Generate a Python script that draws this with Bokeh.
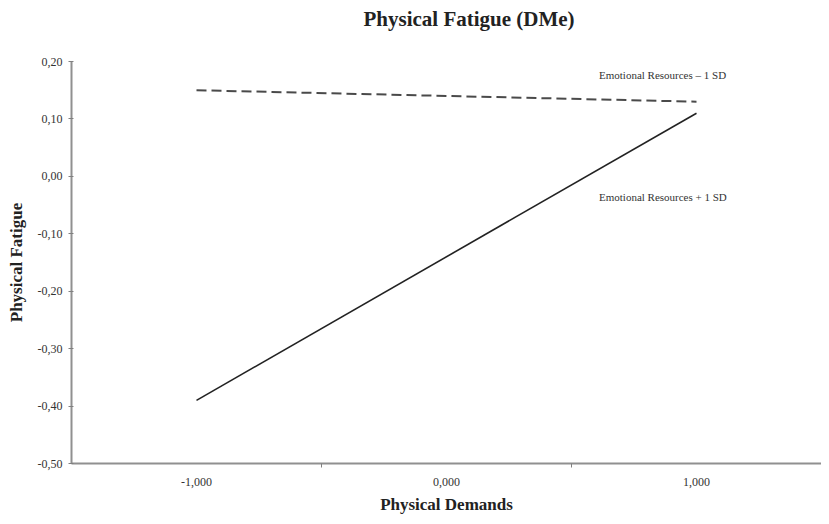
from bokeh.plotting import figure
from bokeh.models import Range1d, FixedTicker, Label, ColumnDataSource, Title
from bokeh.embed import file_html
from bokeh.resources import INLINE

# ---- data ----
x_levels = [-1.0, 1.0]
low_er = [0.15, 0.13]      # Emotional Resources - 1 SD (dashed)
high_er = [-0.39, 0.11]    # Emotional Resources + 1 SD (solid)
x_ticks = [-1, 0, 1]
x_tick_labels = ["-1,000", "0,000", "1,000"]
y_ticks = [0.2, 0.1, 0.0, -0.1, -0.2, -0.3, -0.4, -0.5]
y_tick_labels = ["0,20", "0,10", "0,00", "-0,10", "-0,20", "-0,30", "-0,40", "-0,50"]
title_text = "Physical Fatigue (DMe)"
label_low = "Emotional Resources \u2013 1 SD"
label_high = "Emotional Resources + 1 SD"

SERIF = "Liberation Serif"

p = figure(width=821, height=516, output_backend="svg", toolbar_location=None,
           x_range=Range1d(-1.5, 1.5), y_range=Range1d(-0.5, 0.2),
           min_border_left=71, min_border_right=0, min_border_top=40, min_border_bottom=48)
p.outline_line_color = None
p.grid.grid_line_color = None
p.background_fill_color = "white"
p.border_fill_color = "white"

# spacer panel between the frame and the title
p.add_layout(Title(text=" ", text_font_size="1px", standoff=24), "above")
# title (left aligned with offset so it sits where the original one does)
p.add_layout(Title(text=title_text, text_font=SERIF, text_font_size="21px",
                   text_font_style="bold", text_color="#222222",
                   align="left", offset=292, standoff=8), "above")

src_low = ColumnDataSource(dict(x=x_levels, y=low_er))
src_high = ColumnDataSource(dict(x=x_levels, y=high_er))
p.line("x", "y", source=src_low, line_color="#4a4a4a", line_width=2, line_dash="10 5")
p.line("x", "y", source=src_high, line_color="#222222", line_width=1.6)

# x axis
xa = p.xaxis[0]
xa.ticker = FixedTicker(ticks=x_ticks, minor_ticks=[-0.5, 0.5])
xa.major_label_overrides = {t: l for t, l in zip(x_ticks, x_tick_labels)}
xa.major_tick_in = 0
xa.major_tick_out = 0
xa.minor_tick_in = 0
xa.minor_tick_out = 4
xa.minor_tick_line_color = "#808080"
xa.axis_line_color = "#909090"
xa.axis_line_width = 2
xa.major_label_standoff = 10
xa.major_label_text_font = SERIF
xa.major_label_text_font_size = "12px"
xa.major_label_text_color = "#333333"
xa.axis_label = "Physical Demands"
xa.axis_label_text_font = SERIF
xa.axis_label_text_font_style = "bold"
xa.axis_label_text_font_size = "17px"
xa.axis_label_text_color = "#222222"
xa.axis_label_standoff = 6

# y axis
ya = p.yaxis[0]
ya.ticker = FixedTicker(ticks=y_ticks)
ya.major_label_overrides = {t: l for t, l in zip(y_ticks, y_tick_labels)}
ya.major_tick_in = 2
ya.major_tick_out = 3
ya.major_tick_line_color = "#808080"
ya.minor_tick_line_color = None
ya.axis_line_color = "#909090"
ya.axis_line_width = 2
ya.major_label_standoff = 6
ya.major_label_text_font = SERIF
ya.major_label_text_font_size = "12px"
ya.major_label_text_color = "#333333"
ya.axis_label = "Physical Fatigue"
ya.axis_label_text_font = SERIF
ya.axis_label_text_font_style = "bold"
ya.axis_label_text_font_size = "17px"
ya.axis_label_text_color = "#222222"
ya.axis_label_standoff = 9

p.add_layout(Label(x=0.61, y=0.176, text=label_low, text_font=SERIF,
                   text_font_size="11px", text_color="#333333", text_baseline="middle"))
p.add_layout(Label(x=0.61, y=-0.036, text=label_high, text_font=SERIF,
                   text_font_size="11px", text_color="#333333", text_baseline="middle"))

open("out.html", "w").write(file_html(p, INLINE))
